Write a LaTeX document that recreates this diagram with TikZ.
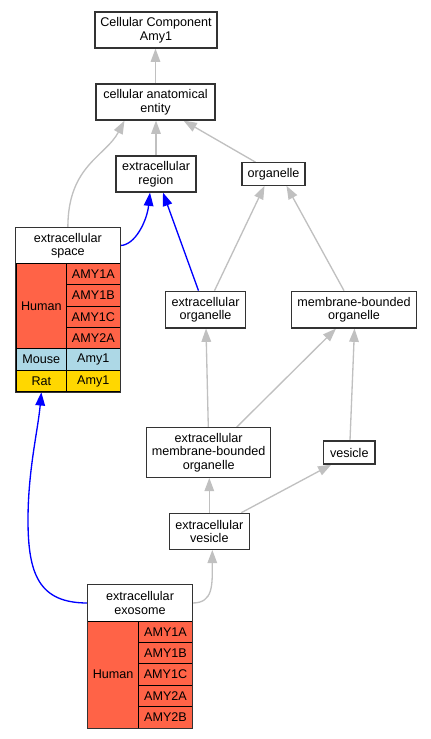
\documentclass[tikz,border=0pt]{standalone}
\usepackage{fontspec}
\setmainfont{Liberation Sans}
\usetikzlibrary{arrows.meta,backgrounds}
\definecolor{edgegray}{RGB}{192,192,192}
\definecolor{boxline}{RGB}{51,51,51}
\definecolor{human}{RGB}{255,99,71}
\definecolor{mouse}{RGB}{173,216,230}
\definecolor{rat}{RGB}{255,215,0}
\begin{document}
\begin{tikzpicture}[x=1pt,y=-1pt,
  lbl/.style={font=\fontsize{12.6}{13.5}\selectfont, align=center, inner sep=0pt},
  box/.style={lbl, draw=boxline, line width=1.2pt, fill=white},
  cell/.style={lbl, draw=black, line width=1pt},
  isa/.style={draw=edgegray, line width=1.33pt, -{Triangle[length=13.3pt,width=9.6pt]}},
  blu/.style={draw=blue, line width=1.33pt, -{Triangle[length=13.3pt,width=9.6pt]}}
]
\useasboundingbox (0,0) rectangle (431,739);

% plain boxes
\node[box, minimum width=122pt, minimum height=36pt] (cc) at (156,30) {Cellular Component\\Amy1};
\node[box, minimum width=119pt, minimum height=36pt] (cae) at (155.5,102) {cellular anatomical\\entity};
\node[box, minimum width=80pt, minimum height=36pt] (er) at (156,174) {extracellular\\region};
\node[box, minimum width=63pt, minimum height=22.5pt] (org) at (273.5,174) {organelle};
\node[box, minimum width=80.7pt, minimum height=36.7pt] (eo) at (205.5,309.6) {extracellular\\organelle};
\node[box, minimum width=124.6pt, minimum height=36.7pt] (mbo) at (354,309.6) {membrane-bounded\\organelle};
\node[box, minimum width=124pt, minimum height=49.6pt] (embo) at (208.7,452.5) {extracellular\\membrane-bounded\\organelle};
\node[box, minimum width=51.3pt, minimum height=23pt] (ves) at (349.3,452.5) {vesicle};
\node[box, minimum width=80pt, minimum height=36pt] (ev) at (209.3,531.3) {extracellular\\vesicle};

% extracellular space table
\node[lbl, fill=white, minimum width=104.3pt, minimum height=35.6pt] (es) at (67.85,245.5) {extracellular\\space};
\node[cell, fill=human, minimum width=50.7pt, minimum height=85.7pt] (esh) at (41.35,306.15) {Human};
\node[cell, fill=human, minimum width=53.3pt, minimum height=21.4pt] (es1) at (93.35,274) {AMY1A};
\node[cell, fill=human, minimum width=53.3pt, minimum height=21.4pt] (es2) at (93.35,295.4) {AMY1B};
\node[cell, fill=human, minimum width=53.3pt, minimum height=21.4pt] (es3) at (93.35,316.8) {AMY1C};
\node[cell, fill=human, minimum width=53.3pt, minimum height=21.4pt] (es4) at (93.35,338.2) {AMY2A};
\node[cell, fill=mouse, minimum width=50.7pt, minimum height=21.4pt] (esm) at (41.35,359.6) {Mouse};
\node[cell, fill=mouse, minimum width=53.3pt, minimum height=21.4pt] (esm2) at (93.35,359.6) {Amy1};
\node[cell, fill=rat, minimum width=50.7pt, minimum height=21.4pt] (esr) at (41.35,381) {Rat};
\node[cell, fill=rat, minimum width=53.3pt, minimum height=21.4pt] (esr2) at (93.35,381) {Amy1};
\draw[boxline, line width=1.2pt] (es.north west) rectangle (esr2.south east);

% extracellular exosome table
\node[lbl, fill=white, minimum width=104.6pt, minimum height=36pt] (exo) at (140,603) {extracellular\\exosome};
\node[cell, fill=human, minimum width=51pt, minimum height=107pt] (exh) at (113.2,674.5) {Human};
\node[cell, fill=human, minimum width=53.6pt, minimum height=21.4pt] (ex1) at (165.5,631.7) {AMY1A};
\node[cell, fill=human, minimum width=53.6pt, minimum height=21.4pt] (ex2) at (165.5,653.1) {AMY1B};
\node[cell, fill=human, minimum width=53.6pt, minimum height=21.4pt] (ex3) at (165.5,674.5) {AMY1C};
\node[cell, fill=human, minimum width=53.6pt, minimum height=21.4pt] (ex4) at (165.5,695.9) {AMY2A};
\node[cell, fill=human, minimum width=53.6pt, minimum height=21.4pt] (ex5) at (165.5,717.3) {AMY2B};
\draw[boxline, line width=1.2pt] (exo.north west) rectangle (ex5.south east);

\begin{scope}[on background layer]
% gray edges (yshift is in page units: negative = downward)
\draw[isa] (cae.north) -- (cae.north |- cc.south);
\draw[isa] (er.north) -- (er.north |- cae.south);
\draw[isa] (es.north) .. controls ([yshift=62]es.north) and ([xshift=-50,yshift=-36]cae.south) .. ([xshift=-31]cae.south);
\draw[isa] ([xshift=-18]org.north) -- ([xshift=28]cae.south);
\draw[isa] ([xshift=9]eo.north) -- ([xshift=-9]org.south);
\draw[isa] ([xshift=-10]mbo.north) -- ([xshift=13]org.south);
\draw[isa] ([xshift=-0.4]embo.north) -- ([xshift=0.5]eo.south);
\draw[isa] ([xshift=28]embo.north) -- ([xshift=-18]mbo.south);
\draw[isa] ([xshift=0.7]ves.north) -- ([xshift=0.5]mbo.south);
\draw[isa] (ev.north) -- (ev.north |- embo.south);
\draw[isa] ([xshift=32]ev.north) -- ([xshift=-18]ves.south);
\draw[isa] (exo.east) .. controls ([xshift=21]exo.east) and ([xshift=3,yshift=-35]ev.south) .. ([xshift=3]ev.south);

% blue edges
\draw[blu] (es.east) .. controls ([xshift=15]es.east) and ([xshift=-9,yshift=-28]er.south) .. ([xshift=-6]er.south);
\draw[blu] ([xshift=-7]eo.north) -- ([xshift=7]er.south);
\coordinate (bend) at (28,520);
\draw[blu] (exo.west) .. controls ([xshift=-48]exo.west) and (28,575) .. (bend) .. controls (28,470) and (38,430) .. (esr.south);
\end{scope}
\end{tikzpicture}
\end{document}
